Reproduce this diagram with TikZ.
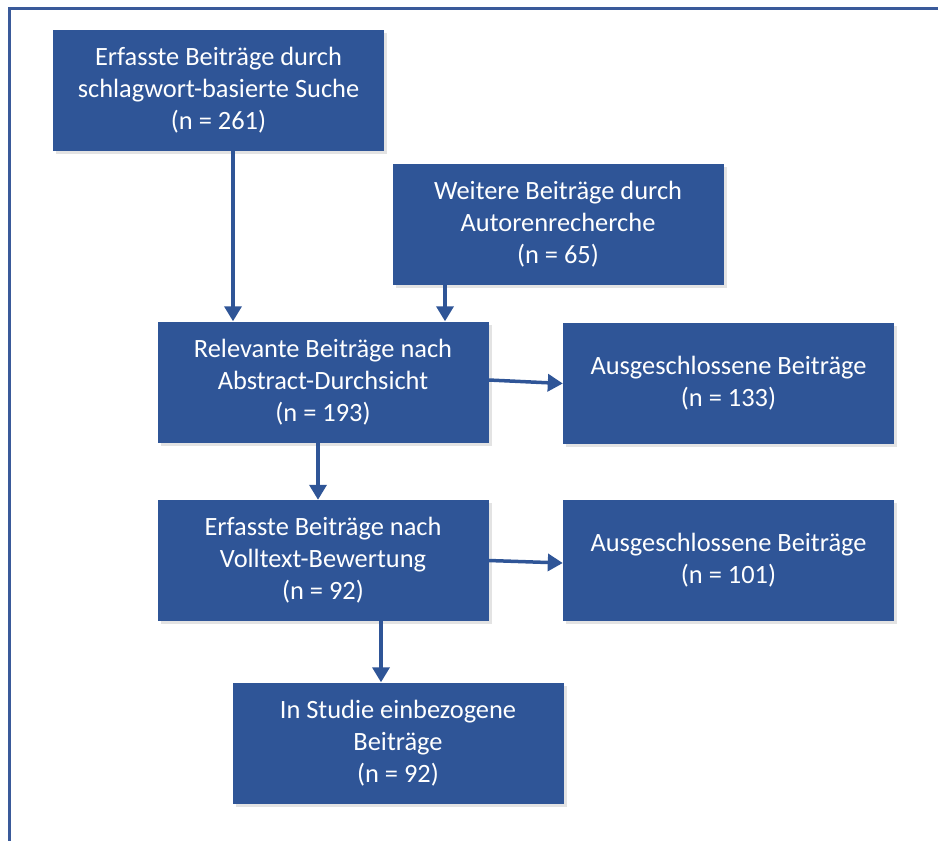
\documentclass[tikz,border=0pt]{standalone}
\usepackage{fontspec}
\setmainfont{Carlito}
\usetikzlibrary{arrows.meta,shadows}
\definecolor{boxblue}{HTML}{2F5597}
\definecolor{frameblue}{HTML}{3A5A9A}
\tikzset{
  box/.style={rectangle, fill=boxblue, text=white, minimum width=331pt, minimum height=121pt,
    align=center, inner sep=0pt, font=\fontsize{26.4}{32}\selectfont,
    drop shadow={opacity=0.22, shadow xshift=3pt, shadow yshift=-3pt}},
  arr/.style={draw=boxblue, line width=3.5pt, -{Triangle[width=17pt,length=15pt]}},
  frame/.style={draw=frameblue, line width=3pt}
}
\begin{document}
\begin{tikzpicture}[x=1pt,y=-1pt]
\useasboundingbox (0,0) rectangle (938,841);
\draw[frame] (9,845) -- (9,8) -- (945,8);
\node[box] (b1) at (218.5,90.5) {Erfasste Beiträge durch\\schlagwort-basierte Suche\\(n = 261)};
\node[box] (b2) at (558,224.5) {Weitere Beiträge durch\\Autorenrecherche\\(n = 65)};
\node[box] (b3) at (323,382) {Relevante Beiträge nach\\Abstract-Durchsicht\\(n = 193)};
\node[box] (b4) at (728.5,383.5) {Ausgeschlossene Beiträge\\(n = 133)};
\node[box] (b5) at (323,560.5) {Erfasste Beiträge nach\\Volltext-Bewertung\\(n = 92)};
\node[box] (b6) at (728.5,560.5) {Ausgeschlossene Beiträge\\(n = 101)};
\node[box] (b7) at (398,743) {In Studie einbezogene\\Beiträge\\(n = 92)};
\draw[arr] ([xshift=14.5pt]b1.south) -- ([xshift=14.5pt]b1.south |- b3.north);
\draw[arr] ([xshift=-113pt]b2.south) -- ([xshift=-113pt]b2.south |- b3.north);
\draw[arr] ([yshift=2pt]b3.east) -- (b4.west);
\draw[arr] (b3.south -| 318,0) -- (b5.north -| 318,0);
\draw[arr] (b5.east) -- ([yshift=-2.5pt]b6.west);
\draw[arr] (b5.south -| 381,0) -- (b7.north -| 381,0);
\end{tikzpicture}
\end{document}
